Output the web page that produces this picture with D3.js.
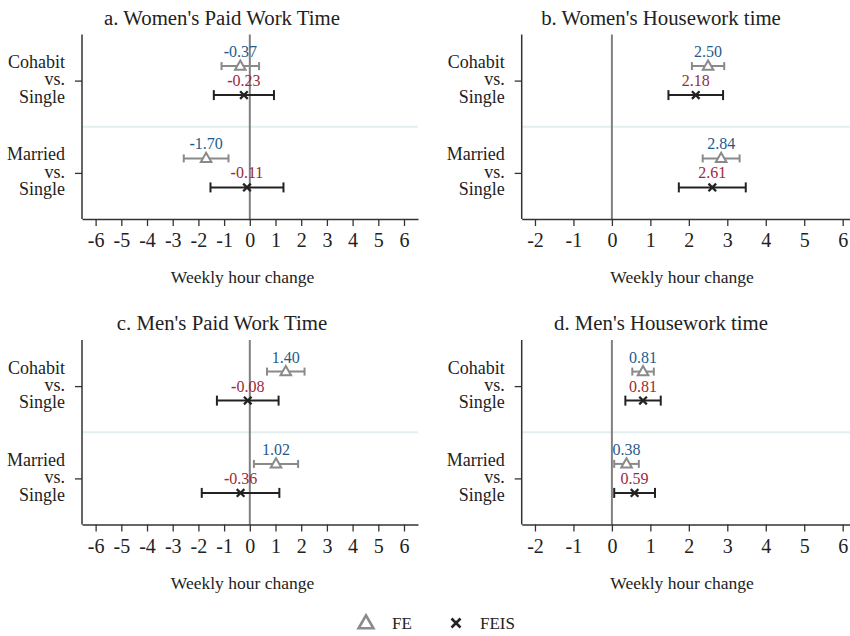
<!DOCTYPE html>
<html>
<head>
<meta charset="utf-8">
<script src="https://cdn.jsdelivr.net/npm/d3@7"></script>
<style>
  body { margin: 0; background: #fff; }
  svg { display: block; }
  svg text { font-family: "Liberation Serif", "Times New Roman", Times, "Nimbus Roman", "DejaVu Serif", serif; }
</style>
</head>
<body>
<svg id="chart" width="850" height="636"></svg>
<script>
// data
const panelTitles = ["a. Women's Paid Work Time", "b. Women's Housework time", "c. Men's Paid Work Time", "d. Men's Housework time"];
const categories = ["Cohabit vs. Single", "Married vs. Single"];
const categoryLines = [["Cohabit", "vs.", "Single"], ["Married", "vs.", "Single"]];

// per panel: [cohabit, married]
const feEst = [[-0.37, -1.70], [2.50, 2.84], [1.40, 1.02], [0.81, 0.38]];
const feLo  = [[-1.10, -2.57], [2.08, 2.36], [0.67, 0.16], [0.53, 0.06]];
const feHi  = [[0.36, -0.83], [2.92, 3.32], [2.13, 1.88], [1.09, 0.70]];

const feisEst = [[-0.23, -0.11], [2.18, 2.61], [-0.08, -0.36], [0.81, 0.59]];
const feisLo  = [[-1.40, -1.53], [1.47, 1.74], [-1.28, -1.87], [0.35, 0.06]];
const feisHi  = [[0.94, 1.31], [2.89, 3.48], [1.12, 1.15], [1.27, 1.12]];

const paidTicks = [-6, -5, -4, -3, -2, -1, 0, 1, 2, 3, 4, 5, 6];
const houseTicks = [-2, -1, 0, 1, 2, 3, 4, 5, 6];
const xTitle = "Weekly hour change";
const legendLabels = ["FE", "FEIS"];

const feColor = "#8a8a8a", feisColor = "#222222";
const feText = "#1f5b8c", feisText = "#9c2a3a";

const svg = d3.select("#chart");

// layout of the four panels
const layouts = [
    {x0: 82, x1: 418, dy: 0, domain: [-6.53, 6.545], ticks: paidTicks, titleX: 222, axisTitleX: 242.5},
    {x0: 521.7, x1: 850, dy: 0, domain: [-2.345, 6.19], ticks: houseTicks, titleX: 661, axisTitleX: 682},
    {x0: 82, x1: 418, dy: 305.5, domain: [-6.53, 6.545], ticks: paidTicks, titleX: 222, axisTitleX: 242.5},
    {x0: 521.7, x1: 850, dy: 305.5, domain: [-2.345, 6.19], ticks: houseTicks, titleX: 661, axisTitleX: 682}
];

const fmt = d3.format(".2f");

layouts.forEach((L, p) => {
    const top = 34.5 + L.dy, bottom = 219 + L.dy;
    const x = d3.scaleLinear().domain(L.domain).range([L.x0, L.x1]);
    const y = d3.scalePoint().domain(categories).range([top + 46.1, bottom - 46.1]);
    const g = svg.append("g");

    // title
    g.append("text")
        .attr("x", L.titleX).attr("y", 24.5 + L.dy)
        .attr("text-anchor", "middle")
        .attr("font-size", 20.8).attr("fill", "#222")
        .text(panelTitles[p]);

    // separator between groups
    const mid = (y(categories[0]) + y(categories[1])) / 2;
    g.append("line")
        .attr("x1", L.x0).attr("x2", L.x1)
        .attr("y1", mid).attr("y2", mid)
        .attr("stroke", "#e2eef0").attr("stroke-width", 2);

    // zero line
    g.append("line")
        .attr("x1", x(0)).attr("x2", x(0))
        .attr("y1", top).attr("y2", bottom)
        .attr("stroke", "#808080").attr("stroke-width", 2);

    // x axis
    const xAxis = g.append("g")
        .attr("transform", `translate(0 ${bottom})`)
        .call(d3.axisBottom(x).tickValues(L.ticks).tickSize(7).tickSizeOuter(0).tickFormat(d => String(d)));
    xAxis.attr("font-family", null);
    xAxis.select(".domain").attr("stroke", "#333").attr("stroke-width", 1.5);
    xAxis.selectAll(".tick line").attr("stroke", "#333").attr("stroke-width", 1.3);
    xAxis.selectAll(".tick text")
        .attr("y", 0).attr("dy", 0)
        .attr("transform", "translate(0 28)")
        .attr("font-size", 20).attr("fill", "#222");

    g.append("text")
        .attr("x", L.axisTitleX).attr("y", 283 + L.dy)
        .attr("text-anchor", "middle")
        .attr("font-size", 17.5).attr("fill", "#222")
        .text(xTitle);

    // y axis
    const yAxis = g.append("g")
        .attr("transform", `translate(${L.x0} 0)`)
        .call(d3.axisLeft(y).tickSize(7).tickSizeOuter(0).tickFormat(""));
    yAxis.select(".domain").attr("d", `M0,${top}V${bottom}`).attr("stroke", "#333").attr("stroke-width", 1.5);
    yAxis.selectAll(".tick line").attr("stroke", "#333").attr("stroke-width", 1.3);

    categories.forEach((c, i) => {
        const t = g.append("text")
            .attr("text-anchor", "end")
            .attr("font-size", 18).attr("fill", "#222");
        categoryLines[i].forEach((line, j) => {
            t.append("tspan")
                .attr("x", L.x0 - 17)
                .attr("y", y(c) - 12.5 + j * 17.3)
                .text(line);
        });
    });

    // estimates
    const series = [
        {est: feEst[p], lo: feLo[p], hi: feHi[p], off: -14.5, color: feColor, text: feText, cap: 4, kind: "tri"},
        {est: feisEst[p], lo: feisLo[p], hi: feisHi[p], off: 14.5, color: feisColor, text: feisText, cap: 5, kind: "x"}
    ];

    series.forEach(s => {
        categories.forEach((c, i) => {
            const yy = y(c) + s.off;
            g.append("line")
                .attr("x1", x(s.lo[i])).attr("x2", x(s.hi[i]))
                .attr("y1", yy).attr("y2", yy)
                .attr("stroke", s.color).attr("stroke-width", 2);
            [s.lo[i], s.hi[i]].forEach(v => {
                g.append("line")
                    .attr("x1", x(v)).attr("x2", x(v))
                    .attr("y1", yy - s.cap).attr("y2", yy + s.cap)
                    .attr("stroke", s.color).attr("stroke-width", 2);
            });
            if (s.kind === "tri") {
                g.append("path")
                    .attr("d", d3.symbol(d3.symbolTriangle, 48)())
                    .attr("transform", `translate(${x(s.est[i])} ${yy + 0.5})`)
                    .attr("fill", "#fff").attr("stroke", s.color).attr("stroke-width", 2);
            } else {
                g.append("path")
                    .attr("d", "M-3.8,-3.8L3.8,3.8M-3.8,3.8L3.8,-3.8")
                    .attr("transform", `translate(${x(s.est[i])} ${yy})`)
                    .attr("fill", "none").attr("stroke", s.color).attr("stroke-width", 2.3);
            }
            const v = s.est[i];
            const lab = g.append("text")
                .attr("x", x(v)).attr("y", yy - 9)
                .attr("text-anchor", "middle")
                .attr("font-size", 16).attr("fill", s.text);
            if (v < 0) lab.append("tspan").attr("font-weight", "bold").text("-");
            lab.append("tspan").text(fmt(Math.abs(v)));
        });
    });
});

// legend
const legend = svg.append("g").attr("transform", "translate(0 623)");
legend.append("path")
    .attr("d", d3.symbol(d3.symbolTriangle, 95)())
    .attr("transform", "translate(366 1)")
    .attr("fill", "#fff").attr("stroke", feColor).attr("stroke-width", 2.6);
legend.append("text").attr("x", 392).attr("y", 6).attr("font-size", 17).attr("fill", "#222").text(legendLabels[0]);
legend.append("path")
    .attr("d", "M-4.5,-4.5L4.5,4.5M-4.5,4.5L4.5,-4.5")
    .attr("transform", "translate(456 0)")
    .attr("fill", "none").attr("stroke", feisColor).attr("stroke-width", 2.6);
legend.append("text").attr("x", 480).attr("y", 6).attr("font-size", 17).attr("fill", "#222").text(legendLabels[1]);
</script>
</body>
</html>
